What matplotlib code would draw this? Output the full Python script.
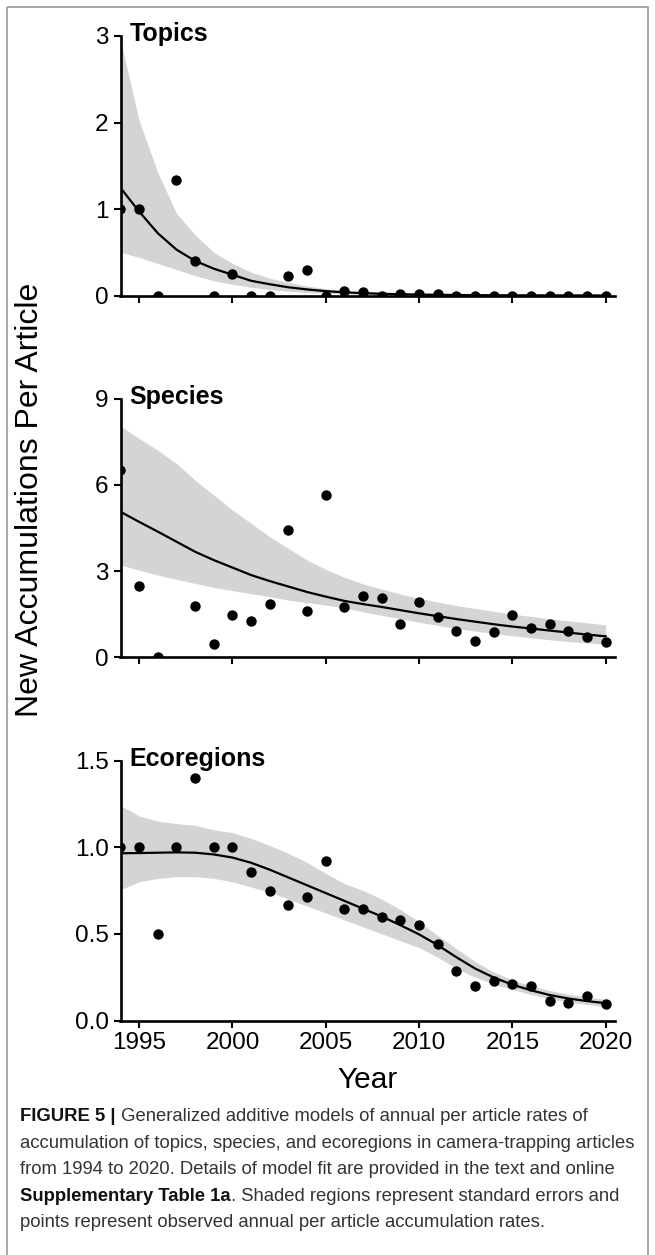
import numpy as np
import matplotlib.pyplot as plt
from matplotlib.patches import Rectangle

plt.rcParams['font.family'] = ['Liberation Sans', 'DejaVu Sans']

# data
years = np.arange(1994, 2021)

topics_obs = [1.0, 1.0, 0.0, 1.33, 0.40, 0.0, 0.25, 0.0, 0.0, 0.22, 0.29, 0.0, 0.05, 0.04,
              0.0, 0.02, 0.015, 0.015, 0.0, 0.0, 0.0, 0.0, 0.0, 0.0, 0.0, 0.0, 0.0]
topics_fit = [1.245, 0.97, 0.72, 0.53, 0.40, 0.31, 0.24, 0.17, 0.13, 0.095, 0.07, 0.05, 0.037, 0.027,
              0.02, 0.015, 0.011, 0.008, 0.006, 0.004, 0.003, 0.002, 0.002, 0.001, 0.001, 0.001, 0.0]
topics_hi = [2.95, 2.02, 1.42, 0.95, 0.70, 0.50, 0.37, 0.27, 0.20, 0.15, 0.11, 0.08, 0.055, 0.04,
             0.03, 0.022, 0.016, 0.012, 0.009, 0.007, 0.005, 0.004, 0.003, 0.002, 0.002, 0.001, 0.001]
topics_lo = [0.50, 0.44, 0.37, 0.30, 0.23, 0.17, 0.13, 0.095, 0.07, 0.05, 0.035, 0.025, 0.018, 0.012,
             0.009, 0.006, 0.004, 0.003, 0.002, 0.001, 0.001, 0.001, 0.0, 0.0, 0.0, 0.0, 0.0]

species_obs = [6.50, 2.48, 0.0, np.nan, 1.77, 0.45, 1.48, 1.25, 1.84, 4.41, 1.61, 5.65, 1.74, 2.13,
               2.05, 1.15, 1.93, 1.41, 0.93, 0.56, 0.88, 1.48, 1.02, 1.16, 0.93, 0.70, 0.53]
species_fit = [5.06, 4.71, 4.37, 4.02, 3.67, 3.38, 3.12, 2.86, 2.65, 2.46, 2.27, 2.11, 1.96, 1.85,
               1.75, 1.64, 1.53, 1.43, 1.33, 1.24, 1.15, 1.07, 1.0, 0.93, 0.86, 0.79, 0.73]
species_hi = [8.04, 7.61, 7.2, 6.74, 6.16, 5.64, 5.12, 4.66, 4.19, 3.79, 3.38, 3.06, 2.78, 2.55,
              2.37, 2.2, 2.05, 1.92, 1.8, 1.7, 1.6, 1.5, 1.42, 1.34, 1.27, 1.2, 1.13]
species_lo = [3.21, 3.03, 2.86, 2.71, 2.57, 2.43, 2.32, 2.21, 2.11, 1.99, 1.9, 1.82, 1.72, 1.58,
              1.46, 1.34, 1.22, 1.11, 1.0, 0.91, 0.83, 0.75, 0.68, 0.61, 0.55, 0.5, 0.45]

eco_obs = [1.0, 1.0, 0.5, 1.0, 1.40, 1.0, 1.0, 0.856, 0.75, 0.665, 0.715, 0.918, 0.642, 0.646,
           0.598, 0.58, 0.55, 0.444, 0.283, 0.2, 0.226, 0.21, 0.2, 0.115, 0.10, 0.142, 0.096]
eco_fit = [0.965, 0.966, 0.968, 0.97, 0.968, 0.958, 0.94, 0.91, 0.87, 0.825, 0.78, 0.735, 0.69, 0.645,
           0.6, 0.55, 0.497, 0.435, 0.365, 0.3, 0.248, 0.207, 0.174, 0.147, 0.127, 0.112, 0.10]
eco_hi = [1.24, 1.18, 1.15, 1.136, 1.126, 1.10, 1.084, 1.05, 1.01, 0.964, 0.912, 0.849, 0.79, 0.75,
          0.70, 0.64, 0.57, 0.49, 0.415, 0.34, 0.28, 0.235, 0.2, 0.173, 0.152, 0.135, 0.122]
eco_lo = [0.755, 0.80, 0.82, 0.83, 0.83, 0.82, 0.80, 0.77, 0.74, 0.70, 0.66, 0.62, 0.58, 0.54,
          0.50, 0.46, 0.42, 0.365, 0.30, 0.25, 0.21, 0.18, 0.15, 0.125, 0.107, 0.093, 0.08]

panels = [
    ('Topics', topics_obs, topics_fit, topics_lo, topics_hi, [0, 1, 2, 3], ['0', '1', '2', '3']),
    ('Species', species_obs, species_fit, species_lo, species_hi, [0, 3, 6, 9], ['0', '3', '6', '9']),
    ('Ecoregions', eco_obs, eco_fit, eco_lo, eco_hi, [0, 0.5, 1.0, 1.5], ['0.0', '0.5', '1.0', '1.5']),
]
xticks = [1995, 2000, 2005, 2010, 2015, 2020]

W, H = 655, 1255
fig = plt.figure(figsize=(W / 100, H / 100), dpi=100)

# panel placement in pixels: (top, bottom)
left_px, right_px = 120.5, 615
rows_px = [(36, 295.5), (398.5, 657.3), (760.5, 1020.5)]

for i, (name, obs, fit, lo, hi, yt, ytl) in enumerate(panels):
    top, bot = rows_px[i]
    ax = fig.add_axes([left_px / W, 1 - bot / H, (right_px - left_px) / W, (bot - top) / H])
    ax.fill_between(years, lo, hi, color='#d4d4d4', lw=0, zorder=1)
    ax.plot(years, fit, color='black', lw=1.6, zorder=2)
    ax.scatter(years, obs, s=56, color='black', zorder=3, linewidths=0)
    ax.set_xlim(1994, 2020.5)
    ax.set_ylim(yt[0], yt[-1])
    ax.set_yticks(yt)
    ax.set_yticklabels(ytl)
    ax.set_xticks(xticks)
    for side in ['top', 'right']:
        ax.spines[side].set_visible(False)
    for side in ['left', 'bottom']:
        ax.spines[side].set_linewidth(1.9)
    ax.tick_params(length=5, width=1.5, labelsize=17.5, pad=3.5, color='black')
    if i < 2:
        ax.set_xticklabels([])
    ax.text(0.018, 0.98, name, transform=ax.transAxes, fontsize=18, fontweight='bold',
            ha='left', va='baseline')

fig.text(30 / W, 1 - 500 / H, 'New Accumulations Per Article', rotation=90,
         fontsize=23, ha='center', va='center')
fig.text((left_px + right_px) / 2 / W, 1 - 1088 / H, 'Year', fontsize=21.5,
         ha='center', va='baseline')

# caption
cap = fig.add_axes([0, 0, 1, 1])
cap.set_axis_off()
cap.set_xlim(0, W)
cap.set_ylim(H, 0)
cap_lines = [
    ('FIGURE 5 |', ' Generalized additive models of annual per article rates of'),
    ('', 'accumulation of topics, species, and ecoregions in camera-trapping articles'),
    ('', 'from 1994 to 2020. Details of model fit are provided in the text and online'),
    ('Supplementary Table 1a', '. Shaded regions represent standard errors and'),
    ('', 'points represent observed annual per article accumulation rates.'),
]
cap_size = 13.3
for k, (bold, rest) in enumerate(cap_lines):
    yb = 1121 + k * 26.6
    if bold:
        t = cap.text(20, yb, bold, fontsize=cap_size, fontweight='bold', color='#111111',
                     ha='left', va='baseline')
        cap.annotate(rest, xy=(1, 0), xycoords=t, fontsize=cap_size, color='#333333',
                     ha='left', va='bottom')
    else:
        cap.text(20, yb, rest, fontsize=cap_size, color='#333333', ha='left', va='baseline')

# thin grey frame around the figure
cap.add_patch(Rectangle((7, 7), 641, 1260, fill=False, edgecolor='#9a9a9a', lw=1.2, clip_on=False))

fig.savefig('out.png', dpi=100)
